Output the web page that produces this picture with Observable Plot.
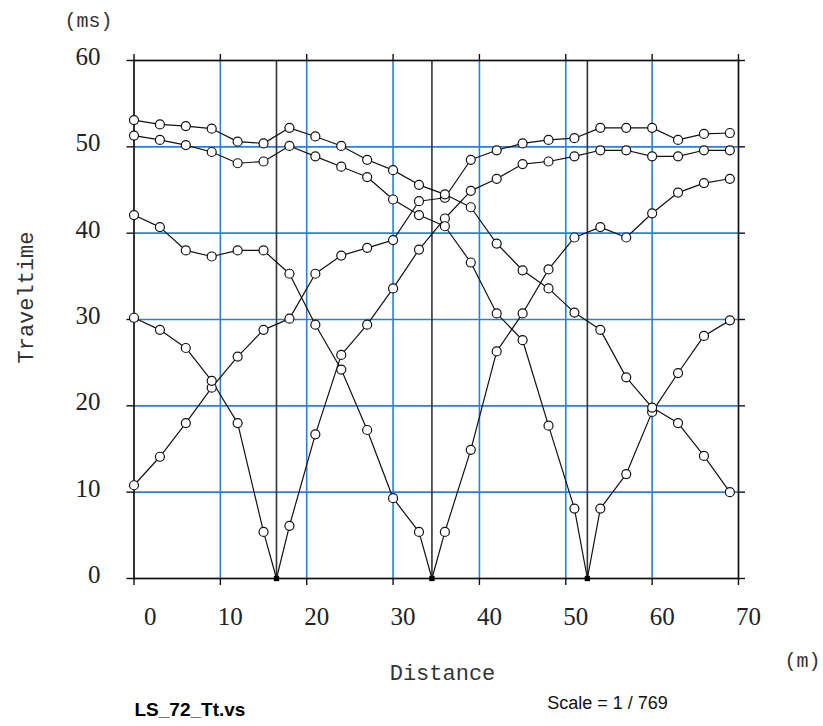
<!DOCTYPE html>
<html>
<head>
<meta charset="utf-8">
<script src="https://cdn.jsdelivr.net/npm/d3@7"></script>
<script src="https://cdn.jsdelivr.net/npm/@observablehq/plot@0.6"></script>
<style>
  html, body { margin: 0; padding: 0; background: #fff; overflow: hidden; }
</style>
</head>
<body>
<div id="chart"></div>
<script>
// Receiver positions (m)
const distances = [0,3,6,9,12,15,18,21,24,27,30,33,36,39,42,45,48,51,54,57,60,63,66,69];
// Shot positions (m) inside the spread
const shotPositions = [16.5, 34.5, 52.5];
// Tick values
const xTicks = [0,10,20,30,40,50,60,70];
const yTicks = [0,10,20,30,40,50,60];

// Travel times (ms) per shot
const timesOffEndLeft  = [10.8,14.1,18.0,22.1,25.7,28.8,30.1,35.3,37.4,38.3,39.2,43.7,44.1,48.5,49.6,50.4,50.8,51.0,52.2,52.2,52.2,50.8,51.5,51.6];
const timesShot165     = [30.2,28.8,26.7,22.9,18.0,5.4,6.1,16.7,25.9,29.4,33.6,38.1,41.7,44.9,46.3,48.0,48.3,48.9,49.6,49.6,48.9,48.9,49.6,49.6];
const timesShot345     = [42.1,40.7,38.0,37.3,38.0,38.0,35.3,29.4,24.2,17.2,9.3,5.4,5.4,14.9,26.3,30.7,35.8,39.5,40.7,39.5,42.3,44.7,45.8,46.3];
const timesShot525     = [51.3,50.8,50.2,49.4,48.1,48.3,50.1,48.9,47.7,46.5,43.9,42.1,40.8,36.6,30.7,27.6,17.7,8.1,8.1,12.1,19.3,23.8,28.1,29.9];
const timesOffEndRight = [53.1,52.6,52.4,52.1,50.6,50.4,52.2,51.2,50.1,48.5,47.3,45.6,44.5,43.0,38.8,35.7,33.6,30.8,28.8,23.3,19.8,18.0,14.2,10.0];

const seriesNames = ["offEndLeft","shot16.5","shot34.5","shot52.5","offEndRight"];
const seriesTimes = [timesOffEndLeft, timesShot165, timesShot345, timesShot525, timesOffEndRight];
const seriesShot  = [null, shotPositions[0], shotPositions[1], shotPositions[2], null];

const receiverRows = [];
const lineRows = [];
const shotRows = [];
seriesNames.forEach((name, i) => {
  const rows = distances.map((d, j) => ({series: name, x: d, t: seriesTimes[i][j]}));
  receiverRows.push(...rows);
  const all = rows.slice();
  if (seriesShot[i] != null) {
    const s = {series: name, x: seriesShot[i], t: 0};
    all.push(s);
    shotRows.push(s);
  }
  all.sort((a, b) => a.x - b.x);
  lineRows.push(...all);
});

const blue = "#2b7fd8";
const ink = "#111";
const serif = "'Liberation Serif', 'DejaVu Serif', serif";
const mono = "'Liberation Mono', 'DejaVu Sans Mono', monospace";
const sans = "'Liberation Sans', Arial, sans-serif";
const blank = () => "";

const chart = Plot.plot({
  width: 823,
  height: 726,
  marginLeft: 133.5,
  marginRight: 85,
  marginTop: 60,
  marginBottom: 148,
  style: {background: "#fff", color: ink},
  x: {domain: [0, 70]},
  y: {domain: [0, 60]},
  marks: [
    Plot.gridX(xTicks.slice(1, -1), {stroke: blue, strokeOpacity: 1, strokeWidth: 1.6}),
    Plot.gridY(yTicks.slice(1, -1), {stroke: blue, strokeOpacity: 1, strokeWidth: 1.6}),
    Plot.ruleX(shotPositions, {stroke: "#333", strokeWidth: 1.6}),
    Plot.frame({stroke: ink, strokeWidth: 1.7}),
    // tick marks on all four sides
    Plot.axisX(xTicks, {anchor: "bottom", tickSize: 7, label: null, tickFormat: blank, stroke: ink, strokeWidth: 1.4}),
    Plot.axisX(xTicks, {anchor: "top", tickSize: 7, label: null, tickFormat: blank, stroke: ink, strokeWidth: 1.4}),
    Plot.axisY(yTicks, {anchor: "left", tickSize: 7, label: null, tickFormat: blank, stroke: ink, strokeWidth: 1.4}),
    Plot.axisY(yTicks, {anchor: "right", tickSize: 6, label: null, tickFormat: blank, stroke: ink, strokeWidth: 1.4}),
    // tick labels (offset as in the reference)
    Plot.axisX(xTicks, {anchor: "bottom", tickSize: 0, tickPadding: 29, label: null,
      textAnchor: "end", dx: 22.5, fontSize: 25, fontFamily: serif, fill: "#222"}),
    Plot.axisY(yTicks, {anchor: "left", tickSize: 0, tickPadding: 33.5, label: null,
      dy: -3.5, fontSize: 25, fontFamily: serif, fill: "#222"}),
    Plot.line(lineRows, {x: "x", y: "t", z: "series", stroke: ink, strokeWidth: 1.2}),
    Plot.dot(receiverRows, {x: "x", y: "t", r: 4.5, fill: "white", stroke: ink, strokeWidth: 1.2}),
    Plot.dot(shotRows, {x: "x", y: "t", symbol: "square", r: 3, fill: "#000", stroke: "none"}),
    Plot.text(["(ms)"], {frameAnchor: "top-left", dx: -45.5, dy: -40, textAnchor: "middle", lineAnchor: "middle",
      fontFamily: mono, fontSize: 20, fill: "#333"}),
    Plot.text(["Traveltime"], {frameAnchor: "left", dx: -108.5, dy: -22, rotate: -90, textAnchor: "middle", lineAnchor: "middle",
      fontFamily: mono, fontSize: 22, fill: "#333"}),
    Plot.text(["Distance"], {frameAnchor: "bottom", dx: 6.25, dy: 94, textAnchor: "middle", lineAnchor: "middle",
      fontFamily: mono, fontSize: 22, fill: "#333"}),
    Plot.text(["(m)"], {frameAnchor: "bottom-right", dx: 64, dy: 82, textAnchor: "middle", lineAnchor: "middle",
      fontFamily: mono, fontSize: 20, fill: "#333"}),
    Plot.text(["LS_72_Tt.vs"], {frameAnchor: "bottom-left", dx: 0.5, dy: 131, textAnchor: "start", lineAnchor: "middle",
      fontFamily: sans, fontSize: 19, fontWeight: "bold", fill: "#000"}),
    Plot.text(["Scale = 1 / 769"], {frameAnchor: "bottom", dx: 171.25, dy: 125, textAnchor: "middle", lineAnchor: "middle",
      fontFamily: sans, fontSize: 18, fill: "#111"})
  ]
});
document.getElementById("chart").appendChild(chart);
</script>
</body>
</html>
